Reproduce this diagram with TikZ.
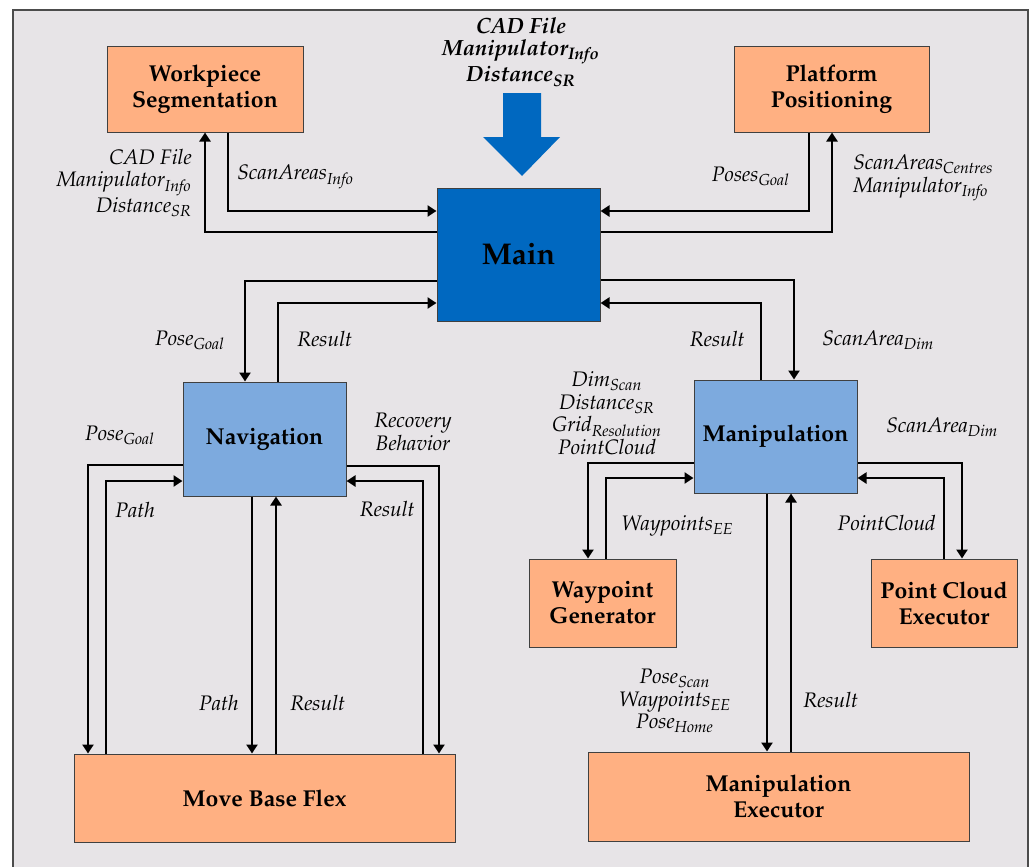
\documentclass[tikz,border=0pt]{standalone}
\usepackage[T1]{fontenc}
\usepackage{mathpazo}
\usepackage{amsmath}
\usepackage{tikz}
\usetikzlibrary{arrows.meta,positioning}

\definecolor{panel}{RGB}{231,228,231}
\definecolor{peach}{RGB}{255,176,130}
\definecolor{sky}{RGB}{125,170,222}
\definecolor{deepblue}{RGB}{0,104,192}

\begin{document}
\begin{tikzpicture}[x=0.5pt,y=-0.5pt,->,>={Triangle[width=5.5pt,length=4.5pt]},
line width=1.3pt]
\tikzstyle{block}=[draw=black!75,line width=0.5pt,fill=peach,align=center,
  font=\fontsize{11.5}{13}\selectfont\bfseries]
\tikzstyle{subblock}=[block,fill=sky,minimum width=81.5pt]
\tikzstyle{mainblock}=[block,fill=deepblue,minimum width=81.5pt,minimum height=66.5pt,
  font=\fontsize{15}{17}\selectfont\bfseries]
\tikzstyle{lbl}=[font=\fontsize{10.5}{11.3}\selectfont\itshape,inner sep=0pt]

\useasboundingbox (0,0) rectangle (1033,867);
\fill[white] (0,0) rectangle (1033,867);
\fill[panel] (13,10) rectangle (1028,867);
\draw[-,line width=0.6pt,black!70] (13,867) -- (13,10) -- (1028,10) -- (1028,867);

% blocks
\node[mainblock]  (Main)         at (518.5,254.5) {Main};
\node[block,minimum width=98pt,minimum height=43pt]   (Workpiece) at (205,89)  {Workpiece\\Segmentation};
\node[block,minimum width=97.5pt,minimum height=43pt] (Platform)  at (831.5,89) {Platform\\Positioning};
\node[subblock,minimum height=57pt]   (Navigation)   at (264.5,439) {Navigation};
\node[subblock,minimum height=56.5pt] (Manipulation) at (775.5,436.5) {Manipulation};
\node[block,minimum width=190.5pt,minimum height=44pt]   (MoveBase)  at (264.5,798) {Move Base Flex};
\node[block,minimum width=73.5pt,minimum height=44pt]    (Waypoint)  at (602.5,603) {Waypoint\\Generator};
\node[block,minimum width=73pt,minimum height=44pt]      (PointCloud) at (944,603) {Point Cloud\\Executor};
\node[block,minimum width=190.5pt,minimum height=44.5pt] (ManipExec) at (778.5,796.5) {Manipulation\\Executor};

% input to main
\node[lbl,align=center,font=\fontsize{11}{11.2}\selectfont\bfseries\itshape] (input) at (521,52)
  {CAD File\\Manipulator\textsubscript{Info}\\Distance\textsubscript{SR}};
\fill[deepblue] (503,93) -- (541,93) -- (541,137) -- (560,137) -- (522,176)
  -- (483,137) -- (503,137) -- cycle;

% main <-> workpiece / platform
\draw (Main.west |- 0,232) -| (Workpiece.south -| 205,0);
\draw (Workpiece.south -| 228,0) |- (Main.west |- 0,211);
\draw (Platform.south -| 809,0) |- (Main.east |- 0,211);
\draw (Main.east |- 0,232) -| (Platform.south -| 832,0);
\node[lbl,anchor=east,align=right] (lblCAD) at (193,183)
  {CAD File\\Manipulator\textsubscript{Info}\\Distance\textsubscript{SR}};
\node[lbl,anchor=west] (lblScanInfo) at (236,177) {ScanAreas\textsubscript{Info}};
\node[lbl,anchor=east] (lblPosesGoal) at (791,176) {Poses\textsubscript{Goal}};
\node[lbl,anchor=west,align=left] (lblCentres) at (852,178)
  {ScanAreas\textsubscript{Centres}\\Manipulator\textsubscript{Info}};

% main <-> navigation / manipulation
\draw (Main.west |- 0,281) -| (Navigation.north -| 245,0);
\draw (Navigation.north -| 278,0) |- (Main.west |- 0,303);
\draw (Main.east |- 0,280) -| (Manipulation.north -| 794,0);
\draw (Manipulation.north -| 761,0) |- (Main.east |- 0,303);
\node[lbl,anchor=east] (lblPoseNav) at (226,340) {Pose\textsubscript{Goal}};
\node[lbl,anchor=west] (lblResNav) at (296,339) {Result};
\node[lbl,anchor=east] (lblResMan) at (746,339) {Result};
\node[lbl,anchor=west] (lblDimTop) at (821,340) {ScanArea\textsubscript{Dim}};

% navigation <-> move base flex
\draw (Navigation.west |- 0,465) -| (MoveBase.north -| 88,0);
\draw (MoveBase.north -| 106,0) |- (Navigation.west |- 0,481);
\draw (Navigation.south -| 252,0) -- (MoveBase.north -| 252,0);
\draw (MoveBase.north -| 276,0) -- (Navigation.south -| 276,0);
\draw (Navigation.east |- 0,466) -| (MoveBase.north -| 439,0);
\draw (MoveBase.north -| 423,0) |- (Navigation.east |- 0,481);
\node[lbl,anchor=east] (lblPoseL) at (156,435) {Pose\textsubscript{Goal}};
\node[lbl,anchor=west] (lblPathL) at (114,510) {Path};
\node[lbl,align=center] (lblRecovery) at (413,432) {Recovery\\Behavior};
\node[lbl,anchor=east] (lblResR) at (416,509) {Result};
\node[lbl,anchor=east] (lblPathB) at (240,703) {Path};
\node[lbl,anchor=west] (lblResB) at (289,703) {Result};

% manipulation <-> helpers
\draw (Manipulation.west |- 0,463) -| (Waypoint.north -| 588,0);
\draw (Waypoint.north -| 606,0) |- (Manipulation.west |- 0,478);
\draw (Manipulation.east |- 0,463) -| (PointCloud.north -| 962,0);
\draw (PointCloud.north -| 944,0) |- (Manipulation.east |- 0,478);
\draw (Manipulation.south -| 767,0) -- (ManipExec.north -| 767,0);
\draw (ManipExec.north -| 791,0) -- (Manipulation.south -| 791,0);
\node[lbl,align=center] (lblManIn) at (607,413)
  {Dim\textsubscript{Scan}\\Distance\textsubscript{SR}\\Grid\textsubscript{Resolution}\\PointCloud};
\node[lbl,anchor=west] (lblWayEE) at (620,526) {Waypoints\textsubscript{EE}};
\node[lbl,anchor=west] (lblDimR) at (885,427) {ScanArea\textsubscript{Dim}};
\node[lbl,anchor=east] (lblPC) at (937,523) {PointCloud};
\node[lbl,align=center] (lblExecIn) at (675,701)
  {Pose\textsubscript{Scan}\\Waypoints\textsubscript{EE}\\Pose\textsubscript{Home}};
\node[lbl,anchor=west] (lblResE) at (802,700) {Result};
\end{tikzpicture}
\end{document}
